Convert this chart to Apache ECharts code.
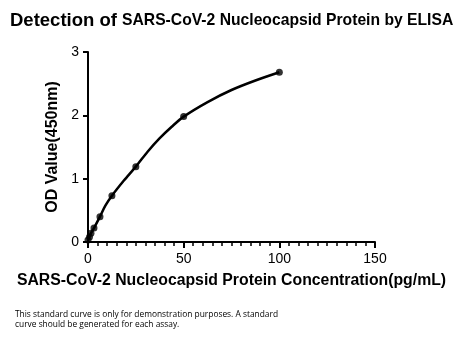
<!DOCTYPE html>
<html><head><meta charset="utf-8">
<script src="https://cdn.jsdelivr.net/npm/echarts@6/dist/echarts.min.js"></script>
<style>html,body{margin:0;padding:0;background:#fff}#c{width:466px;height:341px}</style>
</head><body><div id="c"></div>
<script>
var concentrations = [0, 0.78, 1.56, 3.125, 6.25, 12.5, 25, 50, 100];
var odValues = [0.03, 0.08, 0.14, 0.22, 0.40, 0.73, 1.19, 1.98, 2.68];
var curveX = [0, 0.78, 1.56, 3.125, 6.25, 9, 12.5, 18.75, 25, 31.25, 37.5, 43.75, 50, 62.5, 75, 87.5, 100];
var curveY = [0.03, 0.08, 0.14, 0.22, 0.40, 0.57, 0.73, 0.97, 1.19, 1.43, 1.64, 1.82, 1.98, 2.21, 2.40, 2.55, 2.68];
var xTicks = [0, 50, 100, 150];
var yTicks = [0, 1, 2, 3];
var titleLead = 'Detection of ';
var titleRest = 'SARS-CoV-2 Nucleocapsid Protein by ELISA';
var xName = 'SARS-CoV-2 Nucleocapsid Protein Concentration(pg/mL)';
var yName = 'OD Value(450nm)';
var note = ['This standard curve is only for demonstration purposes. A standard', 'curve should be generated for each assay.'];

var pts = concentrations.map(function(c,i){return [c, odValues[i]];});
var curve = curveX.map(function(c,i){return [c, curveY[i]];});
var chart = echarts.init(document.getElementById('c'), null, {renderer:'canvas'});
chart.setOption({
  animation:false,
  backgroundColor:'#fff',
  title:{
    text:'{a|'+titleLead+'}{b|'+titleRest+'}',
    left:5, top:6,
    textStyle:{rich:{
      a:{fontFamily:'Liberation Sans, Arial',fontWeight:'bold',fontSize:18.5,color:'#000'},
      b:{fontFamily:'Liberation Sans, Arial',fontWeight:'bold',fontSize:15.7,color:'#000'}
    }}
  },
  graphic:[
    {type:'text',left:15,top:310,style:{text:note.join('\n'),font:'8.4px "Open Sans", "Liberation Sans"',fill:'#000',lineHeight:10}}
  ],
  grid:{left:88,right:91,top:52,bottom:99,containLabel:false},
  xAxis:{
    type:'value',min:0,max:150,interval:50,
    name:xName,nameLocation:'middle',nameGap:31,
    nameTextStyle:{fontFamily:'Liberation Sans, Arial',fontWeight:'bold',fontSize:15.8,color:'#000'},
    axisLine:{show:true,onZero:false,lineStyle:{color:'#000',width:2}},
    axisTick:{show:true,length:6,lineStyle:{color:'#000',width:2}},
    minorTick:{show:true,splitNumber:10,length:4,lineStyle:{color:'#000',width:1.5}},
    axisLabel:{fontFamily:'Liberation Sans, Arial',fontSize:14,color:'#000',margin:10},
    splitLine:{show:false}
  },
  yAxis:{
    type:'value',min:0,max:3,interval:1,
    name:yName,nameLocation:'middle',nameGap:25,
    nameTextStyle:{fontFamily:'Liberation Sans, Arial',fontWeight:'bold',fontSize:16,color:'#000'},
    axisLine:{show:true,onZero:false,lineStyle:{color:'#000',width:2}},
    axisTick:{show:true,length:5,lineStyle:{color:'#000',width:2}},
    axisLabel:{fontFamily:'Liberation Sans, Arial',fontSize:14,color:'#000',margin:9},
    splitLine:{show:false}
  },
  series:[
    {type:'line',data:curve,smooth:0.3,showSymbol:false,
     lineStyle:{color:'#000',width:2.5},itemStyle:{color:'#000'}},
    {type:'scatter',data:pts,symbol:'circle',symbolSize:7,itemStyle:{color:'#000'}}
  ]
});
</script></body></html>
